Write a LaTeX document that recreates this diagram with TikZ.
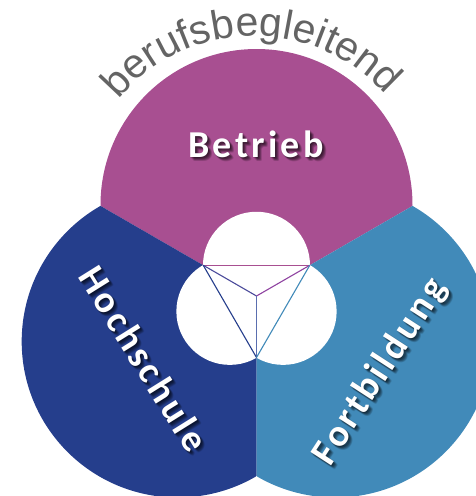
\documentclass[tikz,border=0pt]{standalone}
\usepackage{fontspec}
\setsansfont{Liberation Sans}
\newfontfamily\lblfont{Carlito}[LetterSpace=8.5]
\usetikzlibrary{calc,decorations.text}
\definecolor{magc}{RGB}{168,79,145}
\definecolor{navyc}{RGB}{37,62,140}
\definecolor{skyc}{RGB}{65,138,185}
\definecolor{txtgray}{RGB}{100,100,100}
\definecolor{midc}{RGB}{90,110,175}
\definecolor{purc}{RGB}{75,75,155}
\tikzset{
  lbl/.style={font=\lblfont\bfseries\fontsize{38}{38}\selectfont, text=white, inner sep=0pt},
  lblshadow/.style={lbl, text=black, text opacity=0.09},
  triline/.style={line width=1.1pt},
}
\begin{document}
\begin{tikzpicture}[x=1pt,y=1pt]
\useasboundingbox (0,0) rectangle (475,-496);
\coordinate (O) at (256.5,-296);
\coordinate (A) at ($(O)+(150:61.5)$);
\coordinate (B) at ($(O)+(30:61.5)$);
\coordinate (C) at ($(O)+(270:61.5)$);
% magenta sector
\begin{scope}
\clip (O) -- ($(O)+(150:500)$) -- ($(O)+(90:800)$) -- ($(O)+(30:500)$) -- cycle;
\fill[magc] ($(O)+(90:91)$) circle[radius=156pt];
\end{scope}
% dark blue sector
\begin{scope}
\clip (O) -- ($(O)+(150:500)$) -- ($(O)+(210:800)$) -- ($(O)+(270:500)$) -- cycle;
\fill[navyc] ($(O)+(210:91)$) circle[radius=156pt];
\end{scope}
% light blue sector
\begin{scope}
\clip (O) -- ($(O)+(270:500)$) -- ($(O)+(330:800)$) -- ($(O)+(30:500)$) -- cycle;
\fill[skyc] ($(O)+(330:91)$) circle[radius=156pt];
\end{scope}
% white inner circles
\fill[white] ($(A)!0.5!(B)$) circle[radius=53.5pt];
\fill[white] ($(A)!0.5!(C)$) circle[radius=53.5pt];
\fill[white] ($(B)!0.5!(C)$) circle[radius=53.5pt];
% triangle lines
\draw[triline, magc] (A) -- (B);
\draw[triline, purc] (A) -- (O);
\draw[triline, magc!85!blue] (B) -- (O);
\draw[triline, midc] (O) -- (C);
\draw[triline, navyc] (A) -- (C);
\draw[triline, skyc] (B) -- (C);
% arc text
\coordinate (M) at (254,-212);
\path[decorate, decoration={text along path, text align=center, text color=txtgray,
  text={|\sffamily\fontsize{41}{41}\selectfont|berufsbegleitend}}]
  ($(M)+(151:176)$) arc[start angle=151, end angle=31, radius=176pt];
% labels with soft shadow
\foreach \dx/\dy [count=\i] in {1/-1,2/-2,3/-3,2/-1,1/-2,3/-2,2/-3,0/-1,1/0,4/-3,3/-4,4/-4}{
  \node[lblshadow] (bs\i) at (256+\dx,-144+\dy) {Betrieb};
  \node[lblshadow, rotate=-58] (hs\i) at (144+\dx,-359+\dy) {Hochschule};
  \node[lblshadow, rotate=57] (fs\i) at (380+\dx,-372+\dy) {Fortbildung};
}
\node[lbl] (betrieb) at (256,-144) {Betrieb};
\node[lbl, rotate=-58] (hochschule) at (144,-359) {Hochschule};
\node[lbl, rotate=57] (fortbildung) at (380,-372) {Fortbildung};
\end{tikzpicture}
\end{document}
